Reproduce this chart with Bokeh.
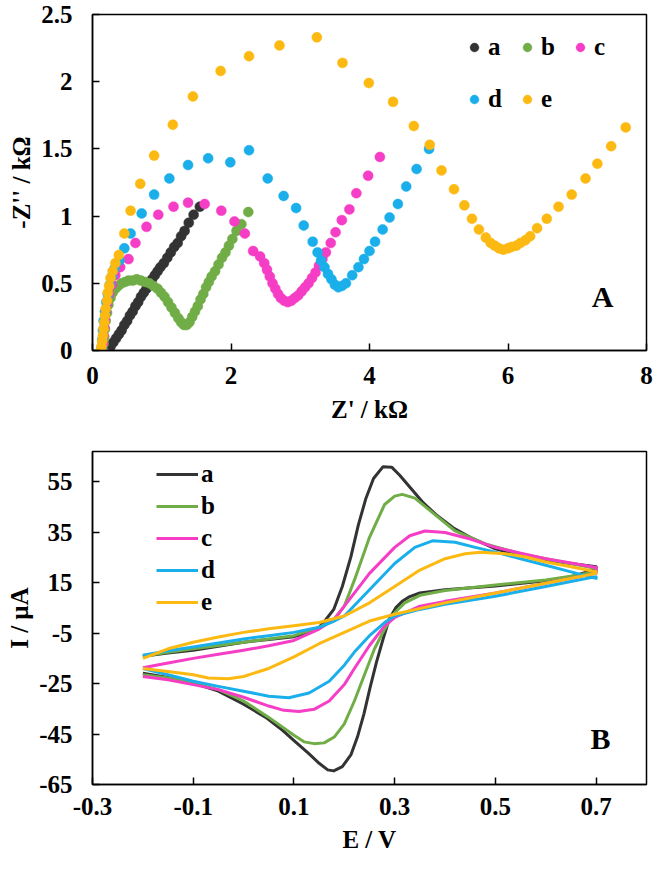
from bokeh.plotting import figure
from bokeh.models import Range1d, FixedTicker, Legend, LegendItem, Label
from bokeh.layouts import column
from bokeh.embed import file_html
from bokeh.resources import INLINE

FONT = "Liberation Serif"
FS = "25px"
names = ["a", "b", "c", "d", "e"]
colors = ["#333333", "#70AD47", "#F53DC5", "#1AAFEA", "#FCB912"]

# ---------------- Panel A: Nyquist data (Z' / kOhm, -Z'' / kOhm) ----------------
a_zre = [0.22, 0.26, 0.30, 0.34, 0.38, 0.42, 0.46, 0.50, 0.54, 0.58, 0.62, 0.66, 0.70, 0.74, 0.78,
         0.82, 0.86, 0.90, 0.94, 0.98, 1.03, 1.08, 1.13, 1.18, 1.23, 1.28, 1.33, 1.39, 1.46, 1.55]
a_zim = [0.01, 0.03, 0.06, 0.09, 0.12, 0.15, 0.19, 0.22, 0.26, 0.29, 0.33, 0.36, 0.40, 0.43, 0.46,
         0.49, 0.53, 0.56, 0.59, 0.62, 0.65, 0.69, 0.73, 0.77, 0.80, 0.85, 0.89, 0.95, 1.01, 1.07]

b_zre = [0.15, 0.16, 0.17, 0.18, 0.19, 0.21, 0.23, 0.26, 0.29, 0.33, 0.37, 0.42, 0.47, 0.52, 0.58, 0.64,
         0.70, 0.76, 0.82, 0.88, 0.94, 0.99, 1.04, 1.09, 1.14, 1.19, 1.24, 1.28, 1.32, 1.36, 1.40, 1.44,
         1.48, 1.52, 1.56, 1.60, 1.64, 1.68, 1.72, 1.77, 1.82, 1.87, 1.92, 1.97, 2.02, 2.08, 2.15, 2.25]
b_zim = [0.00, 0.05, 0.10, 0.16, 0.22, 0.28, 0.34, 0.39, 0.43, 0.46, 0.48, 0.50, 0.51, 0.52, 0.52, 0.53,
         0.52, 0.51, 0.50, 0.48, 0.46, 0.43, 0.40, 0.36, 0.32, 0.28, 0.24, 0.21, 0.19, 0.19, 0.21, 0.25,
         0.29, 0.33, 0.38, 0.42, 0.47, 0.51, 0.55, 0.59, 0.64, 0.69, 0.73, 0.78, 0.83, 0.89, 0.94, 1.03]

c_zre = [0.14, 0.15, 0.16, 0.17, 0.18, 0.19, 0.21, 0.24, 0.28, 0.33, 0.40, 0.52, 0.62, 0.78, 0.95, 1.17,
         1.38, 1.62, 1.86, 2.05, 2.20, 2.32, 2.42, 2.48, 2.52, 2.56, 2.60, 2.64, 2.68, 2.72, 2.77, 2.82,
         2.87, 2.92, 2.97, 3.02, 3.07, 3.12, 3.17, 3.22, 3.27, 3.32, 3.37, 3.44, 3.51, 3.60, 3.71, 3.81,
         3.98, 4.15]
c_zim = [0.00, 0.05, 0.11, 0.17, 0.23, 0.29, 0.35, 0.42, 0.49, 0.56, 0.62, 0.68, 0.80, 0.92, 1.01, 1.07,
         1.10, 1.09, 1.04, 0.96, 0.87, 0.74, 0.70, 0.65, 0.60, 0.55, 0.50, 0.46, 0.42, 0.39, 0.37, 0.36,
         0.37, 0.39, 0.41, 0.44, 0.47, 0.50, 0.54, 0.58, 0.63, 0.68, 0.73, 0.80, 0.88, 0.97, 1.05, 1.17,
         1.30, 1.44]

d_zre = [0.13, 0.14, 0.15, 0.16, 0.18, 0.20, 0.22, 0.25, 0.28, 0.32, 0.39, 0.46, 0.55, 0.71, 0.89, 1.11,
         1.38, 1.67, 1.99, 2.26, 2.53, 2.76, 2.94, 3.05, 3.18, 3.25, 3.30, 3.35, 3.40, 3.45, 3.50, 3.55,
         3.60, 3.66, 3.75, 3.84, 3.92, 4.00, 4.08, 4.19, 4.29, 4.41, 4.53, 4.68, 4.86]
d_zim = [0.02, 0.08, 0.15, 0.22, 0.29, 0.36, 0.42, 0.49, 0.55, 0.61, 0.67, 0.76, 0.87, 1.02, 1.16, 1.28,
         1.38, 1.43, 1.40, 1.49, 1.28, 1.15, 1.06, 0.93, 0.81, 0.73, 0.67, 0.62, 0.57, 0.53, 0.49, 0.47,
         0.48, 0.50, 0.56, 0.62, 0.68, 0.74, 0.81, 0.90, 0.99, 1.09, 1.22, 1.35, 1.50]

e_zre = [0.12, 0.13, 0.14, 0.15, 0.16, 0.17, 0.18, 0.19, 0.21, 0.22, 0.24, 0.26, 0.29, 0.33, 0.38, 0.46,
         0.55, 0.69, 0.89, 1.16, 1.45, 1.85, 2.26, 2.70, 3.24, 3.61, 3.99, 4.34, 4.64, 4.87, 5.04, 5.22,
         5.37, 5.48, 5.58, 5.68, 5.75, 5.81, 5.87, 5.93, 6.00, 6.05, 6.12, 6.18, 6.25, 6.32, 6.42, 6.56,
         6.73, 6.92, 7.12, 7.29, 7.49, 7.70]
e_zim = [0.00, 0.03, 0.07, 0.11, 0.16, 0.21, 0.26, 0.31, 0.37, 0.43, 0.48, 0.54, 0.59, 0.65, 0.71, 0.87,
         1.04, 1.24, 1.45, 1.68, 1.89, 2.08, 2.19, 2.27, 2.33, 2.14, 1.99, 1.85, 1.67, 1.53, 1.34, 1.20,
         1.08, 0.98, 0.90, 0.84, 0.80, 0.78, 0.76, 0.75, 0.76, 0.77, 0.78, 0.80, 0.82, 0.85, 0.91, 0.98,
         1.07, 1.16, 1.28, 1.39, 1.52, 1.66]

# ---------------- Panel B: cyclic voltammograms (E / V, I / uA) ----------------
a_fwd_E = [-0.2, -0.15, -0.1, -0.05, 0.0, 0.05, 0.1, 0.13, 0.15, 0.162, 0.179, 0.196, 0.213, 0.228, 0.243,
           0.258, 0.277, 0.294, 0.31, 0.332, 0.357, 0.382, 0.416, 0.45, 0.5, 0.55, 0.6, 0.65, 0.7]
a_fwd_I = [-14.2, -12.9, -11.8, -10.2, -8.6, -7.5, -6.4, -4.8, -2.7, 0.0, 4.4, 13.5, 25.2, 38.0, 48.5,
           56.3, 61.0, 60.8, 57.6, 52.4, 46.6, 42.0, 36.8, 33.0, 28.4, 25.8, 23.9, 22.6, 21.3]
a_rev_E = [0.7, 0.65, 0.6, 0.5, 0.4, 0.35, 0.33, 0.315, 0.302, 0.289, 0.277, 0.264, 0.251, 0.239, 0.226,
           0.213, 0.196, 0.179, 0.167, 0.15, 0.129, 0.103, 0.078, 0.044, 0.0, -0.05, -0.1, -0.15, -0.2]
a_rev_I = [20.2, 17.4, 15.8, 13.7, 12.2, 10.9, 9.5, 7.6, 5.0, 0.5, -7.3, -16.4, -26.7, -37.0, -46.2,
           -53.3, -57.9, -59.6, -59.2, -56.6, -52.7, -48.1, -43.6, -38.4, -33.2, -28.0, -24.8, -22.6, -20.9]

b_fwd_E = [-0.2, -0.15, -0.1, -0.05, 0.0, 0.05, 0.1, 0.15, 0.18, 0.2, 0.22, 0.25, 0.28, 0.3, 0.315,
           0.34, 0.38, 0.42, 0.48, 0.55, 0.6, 0.65, 0.7]
b_fwd_I = [-14.2, -12.6, -11.2, -9.9, -8.6, -7.3, -6.0, -2.7, 0.5, 5.7, 16.0, 33.0, 46.0, 49.3, 50.0,
           48.5, 42.0, 35.5, 30.4, 26.5, 24.5, 22.6, 20.6]
b_rev_E = [0.7, 0.65, 0.6, 0.5, 0.4, 0.35, 0.32, 0.3, 0.28, 0.26, 0.24, 0.22, 0.2, 0.18, 0.16, 0.14,
           0.12, 0.1, 0.05, 0.0, -0.05, -0.1, -0.15, -0.2]
b_rev_I = [19.3, 17.6, 16.1, 14.1, 11.9, 10.0, 7.0, 3.1, -3.4, -11.2, -21.5, -31.9, -41.0, -46.2, -48.5,
           -48.8, -48.1, -45.5, -38.4, -31.9, -27.4, -24.8, -22.8, -21.5]

c_fwd_E = [-0.2, -0.15, -0.1, -0.05, 0.0, 0.05, 0.1, 0.15, 0.18, 0.2, 0.25, 0.3, 0.33, 0.36, 0.4, 0.45,
           0.5, 0.55, 0.6, 0.65, 0.7]
c_fwd_I = [-18.7, -16.8, -15.0, -13.4, -11.8, -10.0, -7.9, -3.4, 0.5, 5.7, 18.7, 29.0, 33.6, 35.5, 34.9,
           32.3, 29.0, 26.7, 24.5, 22.8, 21.0]
c_rev_E = [0.7, 0.65, 0.6, 0.5, 0.4, 0.35, 0.3, 0.28, 0.25, 0.22, 0.2, 0.17, 0.14, 0.11, 0.08, 0.05, 0.0,
           -0.05, -0.1, -0.15, -0.2]
c_rev_I = [18.7, 16.7, 14.8, 10.9, 7.6, 5.7, 1.2, -2.1, -9.9, -19.0, -25.4, -31.9, -35.2, -36.1, -35.6,
           -33.9, -30.4, -27.4, -25.4, -23.5, -22.2]

d_fwd_E = [-0.2, -0.15, -0.1, -0.05, 0.0, 0.05, 0.1, 0.15, 0.18, 0.2, 0.25, 0.3, 0.34, 0.375, 0.42, 0.46,
           0.5, 0.55, 0.6, 0.65, 0.7]
d_fwd_I = [-13.8, -12.0, -10.5, -8.9, -7.3, -6.0, -4.7, -2.7, -0.2, 1.8, 12.2, 22.6, 29.0, 31.6, 31.0,
           29.0, 27.1, 24.5, 21.9, 19.3, 16.7]
d_rev_E = [0.7, 0.65, 0.6, 0.5, 0.4, 0.35, 0.3, 0.28, 0.25, 0.22, 0.2, 0.17, 0.13, 0.09, 0.05, 0.0, -0.05,
           -0.1, -0.15, -0.2]
d_rev_I = [17.4, 15.5, 13.5, 9.6, 6.4, 4.4, 1.8, -0.8, -6.0, -12.5, -17.7, -24.1, -28.7, -30.6, -30.0,
           -28.0, -26.1, -24.1, -21.5, -19.0]

e_fwd_E = [-0.2, -0.15, -0.1, -0.05, 0.0, 0.05, 0.1, 0.15, 0.2, 0.25, 0.3, 0.35, 0.4, 0.44, 0.47, 0.52,
           0.56, 0.6, 0.65, 0.7]
e_fwd_I = [-15.0, -11.2, -8.6, -6.5, -4.7, -3.3, -2.1, -0.8, 1.8, 7.0, 13.5, 20.0, 24.5, 26.5, 27.1, 26.5,
           25.2, 23.2, 21.3, 19.3]
e_rev_E = [0.7, 0.6, 0.5, 0.4, 0.3, 0.25, 0.2, 0.15, 0.1, 0.05, 0.0, -0.03, -0.07, -0.1, -0.15, -0.2]
e_rev_I = [18.7, 14.8, 10.9, 7.0, 2.5, -0.2, -4.7, -9.2, -14.4, -19.0, -22.2, -23.1, -22.8, -21.5, -20.2,
           -19.0]

# ticks
a_xticks = [0, 2, 4, 6, 8]
a_xlabels = ["0", "2", "4", "6", "8"]
a_yticks = [0, 0.5, 1, 1.5, 2, 2.5]
a_ylabels = ["0", "0.5", "1", "1.5", "2", "2.5"]
b_xticks = [-0.3, -0.1, 0.1, 0.3, 0.5, 0.7]
b_xlabels = ["-0.3", "-0.1", "0.1", "0.3", "0.5", "0.7"]
b_yticks = [-65, -45, -25, -5, 15, 35, 55]
b_ylabels = ["-65", "-45", "-25", "-5", "15", "35", "55"]


def style(p, xt, xl, yt, yl, xlab, ylab, xstand, xlstand):
    p.xaxis.ticker = FixedTicker(ticks=xt, minor_ticks=[])
    p.yaxis.ticker = FixedTicker(ticks=yt, minor_ticks=[])
    p.xaxis.major_label_overrides = dict(zip(xt, xl))
    p.yaxis.major_label_overrides = dict(zip(yt, yl))
    p.xaxis.axis_label = xlab
    p.yaxis.axis_label = ylab
    for ax in (p.xaxis[0], p.yaxis[0]):
        ax.major_tick_in = 7
        ax.major_tick_out = 0
        ax.minor_tick_line_color = None
        ax.axis_line_width = 1.5
        ax.axis_line_color = "black"
        ax.major_tick_line_width = 1.5
        ax.major_tick_line_color = "black"
        ax.major_label_text_font = FONT
        ax.major_label_text_font_style = "bold"
        ax.major_label_text_font_size = FS
        ax.major_label_text_color = "black"
        ax.axis_label_text_font = FONT
        ax.axis_label_text_font_style = "bold"
        ax.axis_label_text_font_size = FS
        ax.axis_label_text_color = "black"
    p.xaxis.major_label_standoff = xstand
    p.xaxis.axis_label_standoff = xlstand
    p.yaxis.major_label_standoff = 20
    p.yaxis.axis_label_standoff = 3
    p.grid.visible = False
    p.outline_line_color = "black"
    p.outline_line_width = 1.5
    p.outline_line_alpha = 1.0
    p.background_fill_color = "white"
    p.border_fill_color = "white"


# ---------------- Figure A ----------------
p1 = figure(width=653, height=440, x_range=Range1d(0, 8), y_range=Range1d(0, 2.5),
            output_backend="svg", toolbar_location=None,
            min_border_left=92, min_border_right=7, min_border_top=14, min_border_bottom=90)
style(p1, a_xticks, a_xlabels, a_yticks, a_ylabels, "Z' / k\u03a9", "-Z'' / k\u03a9", 16, 9)

eis = [(a_zre, a_zim), (b_zre, b_zim), (c_zre, c_zim), (d_zre, d_zim), (e_zre, e_zim)]
sc = []
for (xs, ys), col in zip(eis, colors):
    r = p1.scatter(xs, ys, size=10, fill_color=col, line_color=col, line_width=0.5)
    sc.append(r)

leg_kw = dict(glyph_width=22, glyph_height=22, label_standoff=3, spacing=8, padding=0, margin=0,
              border_line_color=None, background_fill_alpha=0.0,
              label_text_font=FONT, label_text_font_style="bold", label_text_font_size=FS,
              label_text_color="black")
leg1 = Legend(items=[LegendItem(label=n, renderers=[r]) for n, r in zip(names[:3], sc[:3])],
              orientation="horizontal", location=(371, 289), **leg_kw)
leg2 = Legend(items=[LegendItem(label=n, renderers=[r]) for n, r in zip(names[3:], sc[3:])],
              orientation="horizontal", location=(371, 237), **leg_kw)
p1.add_layout(leg1)
p1.add_layout(leg2)
p1.add_layout(Label(x=510, y=54, x_units="screen", y_units="screen", text="A",
                    text_font=FONT, text_font_style="bold", text_font_size="30px",
                    text_align="center", text_baseline="middle", text_color="black"))

# ---------------- Figure B ----------------
p2 = figure(width=653, height=422, x_range=Range1d(-0.3, 0.8), y_range=Range1d(-65, 67),
            output_backend="svg", toolbar_location=None,
            min_border_left=92, min_border_right=7, min_border_top=11, min_border_bottom=78)
style(p2, b_xticks, b_xlabels, b_yticks, b_ylabels, "E / V", "I / \u00b5A", 13, 8)

cv = [(a_fwd_E + a_rev_E, a_fwd_I + a_rev_I),
      (b_fwd_E + b_rev_E, b_fwd_I + b_rev_I),
      (c_fwd_E + c_rev_E, c_fwd_I + c_rev_I),
      (d_fwd_E + d_rev_E, d_fwd_I + d_rev_I),
      (e_fwd_E + e_rev_E, e_fwd_I + e_rev_I)]
ln = []
for (xs, ys), col in zip(cv, colors):
    r = p2.line(xs, ys, line_color=col, line_width=3, line_join="round")
    ln.append(r)

leg3 = Legend(items=[LegendItem(label=n, renderers=[r]) for n, r in zip(names, ln)],
              orientation="vertical", location=(64, 168),
              glyph_width=42, glyph_height=20, label_standoff=3, spacing=4, padding=0, margin=0,
              border_line_color=None, background_fill_alpha=0.0,
              label_text_font=FONT, label_text_font_style="bold", label_text_font_size=FS,
              label_text_color="black")
p2.add_layout(leg3)
p2.add_layout(Label(x=508, y=46, x_units="screen", y_units="screen", text="B",
                    text_font=FONT, text_font_style="bold", text_font_size="30px",
                    text_align="center", text_baseline="middle", text_color="black"))

layout = column(p1, p2)
open("out.html", "w").write(file_html(layout, INLINE))
